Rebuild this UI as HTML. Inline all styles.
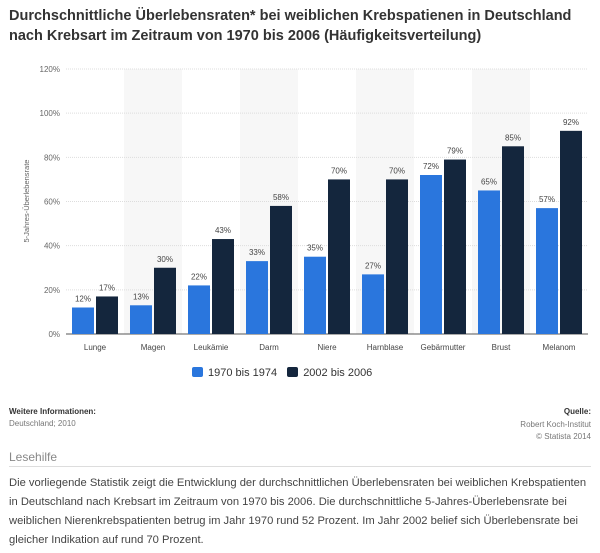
<!DOCTYPE html>
<html><head><meta charset="utf-8">
<style>
body{margin:0;width:600px;height:553px;background:#fff;font-family:"Liberation Sans",sans-serif;position:relative;overflow:hidden;color:#333}
.t{position:absolute;white-space:nowrap}
</style></head><body>
<div class="t" style="left:9px;top:6px;font-size:14.5px;font-weight:bold;line-height:20px;color:#333">Durchschnittliche Überlebensraten* bei weiblichen Krebspatienen in Deutschland<br>nach Krebsart im Zeitraum von 1970 bis 2006 (Häufigkeitsverteilung)</div>
<svg id="chart" width="600" height="360" style="position:absolute;left:0;top:0" font-family="Liberation Sans, sans-serif"></svg>
<div class="t" style="left:192px;top:367px;font-size:11px;color:#333">
<span><span style="display:inline-block;width:11px;height:10px;background:#2a76dd;border-radius:2px;vertical-align:-1px;margin-right:5px"></span>1970 bis 1974</span>
<span style="margin-left:7px"><span style="display:inline-block;width:11px;height:10px;background:#14263d;border-radius:2px;vertical-align:-1px;margin-right:5px"></span>2002 bis 2006</span></div>
<div class="t" style="left:9px;top:407px;font-size:8px;font-weight:bold">Weitere Informationen:</div>
<div class="t" style="left:9px;top:419px;font-size:8px;color:#777">Deutschland; 2010</div>
<div class="t" style="right:9px;top:407px;font-size:8px;font-weight:bold">Quelle:</div>
<div class="t" style="right:9px;top:419px;font-size:8px;color:#777;text-align:right;line-height:12px">Robert Koch-Institut<br>© Statista 2014</div>
<div class="t" style="left:9px;top:450px;font-size:12px;color:#888">Lesehilfe</div>
<div style="position:absolute;left:9px;top:466px;width:582px;height:1px;background:#ddd"></div>
<div style="position:absolute;left:9px;top:474px;width:585px;font-size:11.2px;line-height:19px;color:#444">Die vorliegende Statistik zeigt die Entwicklung der durchschnittlichen Überlebensraten bei weiblichen Krebspatienten in Deutschland nach Krebsart im Zeitraum von 1970 bis 2006. Die durchschnittliche 5-Jahres-Überlebensrate bei weiblichen Nierenkrebspatienten betrug im Jahr 1970 rund 52 Prozent. Im Jahr 2002 belief sich Überlebensrate bei gleicher Indikation auf rund 70 Prozent.</div>
<script>
const categories=["Lunge","Magen","Leukämie","Darm","Niere","Harnblase","Gebärmutter","Brust","Melanom"];
const series1970=[12,13,22,33,35,27,72,65,57];
const series2002=[17,30,43,58,70,70,79,85,92];
const yTicks=[0,20,40,60,80,100,120];
const svg=document.getElementById('chart');
const NS='http://www.w3.org/2000/svg';
const x0=66,x1=588,y0=334,yTop=69,ymax=120;
const band=(x1-x0)/categories.length;
const y=v=>y0-(v/ymax)*(y0-yTop);
const bx=i=>x0+i*band;
function mk(tag,attrs){const e=document.createElementNS(NS,tag);for(const k in attrs)e.setAttribute(k,attrs[k]);svg.appendChild(e);return e;}
categories.forEach((c,i)=>{if(i%2===1){const r=mk('rect',{x:bx(i),y:yTop,width:band,height:y0-yTop,fill:'#f7f7f7'});

}});
yTicks.forEach(t=>{const l=mk('line',{x1:x0,x2:x1,y1:y(t),y2:y(t),stroke:'#ddd','stroke-dasharray':'1,1'});


const tx=mk('text',{x:60,y:y(t)+3,'text-anchor':'end','font-size':'8',fill:'#666'});tx.textContent=t+'%';

});
const ax=mk('line',{x1:x0,x2:x1,y1:y0,y2:y0,stroke:'#555'});


const yt=mk('text',{x:0,y:0,'text-anchor':'middle','font-size':'7.5',fill:'#666',transform:'translate(29,201) rotate(-90)'});yt.textContent='5-Jahres-Überlebensrate';


const bw=22;
categories.forEach((c,i)=>{const cx=bx(i)+band/2;
[[series1970,'#2a76dd',cx-bw-1,'bar-1970-'],[series2002,'#14263d',cx+1,'bar-2002-']].forEach(([s,col,xx,nm])=>{
const r=mk('rect',{x:xx,y:y(s[i]),width:bw,height:y0-y(s[i]),fill:col});


const l=mk('text',{x:xx+bw/2,y:y(s[i])-6,'text-anchor':'middle','font-size':'8',fill:'#444'});l.textContent=s[i]+'%';

});
const t=mk('text',{x:cx,y:350,'text-anchor':'middle','font-size':'8',fill:'#444'});t.textContent=c;

});
</script>
</body></html>
